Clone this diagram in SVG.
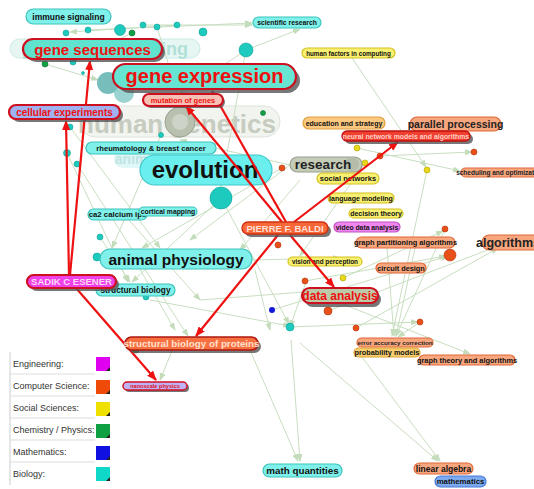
<svg xmlns="http://www.w3.org/2000/svg" width="534" height="489" viewBox="0 0 534 489">
<defs>
<marker id="ar" markerUnits="userSpaceOnUse" markerWidth="10" markerHeight="8" refX="9" refY="4" orient="auto"><path d="M0,0 L10,4 L0,8 z" fill="#ee1111"/></marker>
<marker id="ag" markerUnits="userSpaceOnUse" markerWidth="8" markerHeight="6" refX="7" refY="3" orient="auto"><path d="M0,0 L8,3 L0,6 z" fill="#c4dcbc"/></marker>
<style>
text{font-family:"Liberation Sans",Arial,sans-serif;text-anchor:middle;font-weight:bold}
.bio rect.p{fill:#7ff0ea;stroke:#3cc4bc;stroke-width:1.2}
.soc rect.p{fill:#f8f070;stroke:#d4c020;stroke-width:1.2}
.cs rect.p{fill:#f8a67e;stroke:#e0683a;stroke-width:1.2}
.edu rect.p{fill:#fcc880;stroke:#e0a040;stroke-width:1.2}
.prob rect.p{fill:#f8d070;stroke:#e0a030;stroke-width:1.2}
.sh{fill:#555;opacity:.8}
.hl{stroke:#cc1020;stroke-width:2.2}
.t{fill:#111}
.r{fill:#ee1010}
.g line{stroke:#c8dec0;stroke-width:1;marker-end:url(#ag)}
.red line{stroke:#ee1111;stroke-width:2.2;marker-end:url(#ar)}
.dc{fill:#1ccbbd;stroke:#10a098;stroke-width:.6}
.dg{fill:#12a046;stroke:#0a7030;stroke-width:.6}
.do{fill:#e8501a;stroke:#b03008;stroke-width:.6}
.dy{fill:#e8d818;stroke:#b0a000;stroke-width:.6}
.db{fill:#1418d8}
.lg{font-weight:normal;text-anchor:start;font-size:9px;fill:#333}
</style>
</defs>
<rect width="534" height="489" fill="#fff"/>

<g id="faded">
<rect x="10" y="39" width="190" height="19" rx="9.5" fill="#e6f6f3" stroke="#cdeae5"/>
<text x="105" y="55" font-size="18" fill="#b0e0d8">protein sequencing</text>
<rect x="80" y="106" width="200" height="31" rx="15.5" fill="#f2f4f0" stroke="#dfe3da"/>
<text x="177" y="133" font-size="26" fill="#c6ccbf">human genetics</text>
<rect x="114" y="150" width="44" height="18" rx="9" fill="#dff7f7"/>
<text x="137" y="164" font-size="14" fill="#bfe4e4">animal</text>
</g>

<g id="connectors" class="g">
<line x1="88" y1="30" x2="252" y2="23"/>
<line x1="143" y1="25" x2="252" y2="25"/>
<line x1="246" y1="50" x2="300" y2="29"/>
<line x1="246" y1="50" x2="178" y2="96"/>
<line x1="177" y1="25" x2="70" y2="32"/>
<line x1="157" y1="27" x2="182" y2="108"/>
<line x1="132" y1="33" x2="76" y2="60"/>
<line x1="45" y1="64" x2="98" y2="80"/>
<line x1="352" y1="58" x2="426" y2="167"/>
<line x1="427" y1="170" x2="392" y2="336"/>
<line x1="70" y1="127" x2="160" y2="248"/>
<line x1="67" y1="153" x2="128" y2="282"/>
<line x1="77" y1="164" x2="188" y2="336"/>
<line x1="100" y1="237" x2="130" y2="282"/>
<line x1="161" y1="135" x2="112" y2="248"/>
<line x1="221" y1="198" x2="132" y2="282"/>
<line x1="221" y1="198" x2="289" y2="324"/>
<line x1="282" y1="168" x2="142" y2="248"/>
<line x1="246" y1="50" x2="221" y2="186"/>
<line x1="290" y1="165" x2="180" y2="140"/>
<line x1="290" y1="165" x2="190" y2="240"/>
<line x1="305" y1="281" x2="446" y2="256"/>
<line x1="343" y1="278" x2="443" y2="231"/>
<line x1="328" y1="311" x2="498" y2="246"/>
<line x1="272" y1="310" x2="448" y2="256"/>
<line x1="290" y1="327" x2="418" y2="322"/>
<line x1="356" y1="328" x2="498" y2="248"/>
<line x1="380" y1="156" x2="472" y2="152"/>
<line x1="357" y1="148" x2="460" y2="171"/>
<line x1="365" y1="163" x2="300" y2="256"/>
<line x1="445" y1="229" x2="396" y2="336"/>
<line x1="387" y1="248" x2="394" y2="336"/>
<line x1="415" y1="248" x2="396" y2="336"/>
<line x1="340" y1="303" x2="470" y2="354"/>
<line x1="420" y1="322" x2="398" y2="337"/>
<line x1="250" y1="350" x2="298" y2="461"/>
<line x1="291" y1="340" x2="300" y2="461"/>
<line x1="362" y1="357" x2="440" y2="461"/>
<line x1="300" y1="343" x2="438" y2="461"/>
<line x1="172" y1="351" x2="160" y2="380"/>
<line x1="130" y1="252" x2="175" y2="330"/>
<line x1="120" y1="210" x2="200" y2="300"/>
<line x1="250" y1="260" x2="340" y2="258"/>
<line x1="200" y1="300" x2="330" y2="290"/>
<line x1="150" y1="300" x2="290" y2="326"/>
<line x1="255" y1="270" x2="270" y2="330"/>
<line x1="306" y1="282" x2="290" y2="327"/>
<line x1="300" y1="180" x2="240" y2="250"/>
</g>

<g id="dots">
<circle cx="108" cy="83" r="11" fill="#5fb2b0" opacity=".85"/>
<circle cx="124" cy="93" r="10" fill="#78c4c0" opacity=".75"/>
<circle cx="180" cy="122" r="15" fill="#b8c0b0" stroke="#9aa290"/>
<circle cx="180" cy="122" r="8" fill="#cdd3c6"/>
<circle class="dc" cx="66" cy="33" r="3"/>
<circle class="dc" cx="88" cy="30" r="3"/>
<circle class="dc" cx="120" cy="30" r="5.5"/>
<circle class="dc" cx="143" cy="25" r="3"/>
<circle class="dc" cx="157" cy="27" r="3"/>
<circle class="dc" cx="177" cy="25" r="3"/>
<circle class="dc" cx="203" cy="32" r="4"/>
<circle class="dc" cx="246" cy="50" r="7"/>
<circle class="dc" cx="73" cy="62" r="3"/>
<circle class="dc" cx="83" cy="73" r="1.5"/>
<circle class="dc" cx="70" cy="127" r="3"/>
<circle class="dc" cx="67" cy="153" r="3.5"/>
<circle class="dc" cx="77" cy="164" r="3"/>
<circle class="dc" cx="161" cy="135" r="2.5"/>
<circle class="dc" cx="100" cy="237" r="3"/>
<circle class="dc" cx="221" cy="198" r="11"/>
<circle class="dc" cx="97" cy="257" r="4"/>
<circle class="dc" cx="146" cy="297" r="3"/>
<circle class="dc" cx="290" cy="327" r="4"/>
<circle class="dg" cx="132" cy="33" r="3"/>
<circle class="dg" cx="45" cy="64" r="3"/>
<circle class="dg" cx="263" cy="113" r="2.5"/>
<circle class="dg" cx="136" cy="350" r="3"/>
<circle class="do" cx="282" cy="168" r="3"/>
<circle class="do" cx="278" cy="245" r="3"/>
<circle class="do" cx="380" cy="156" r="3"/>
<circle class="do" cx="474" cy="152" r="3"/>
<circle class="do" cx="445" cy="229" r="3"/>
<circle class="do" cx="305" cy="281" r="3"/>
<circle class="do" cx="328" cy="311" r="4"/>
<circle class="do" cx="356" cy="328" r="3"/>
<circle class="do" cx="420" cy="322" r="3"/>
<circle class="do" cx="450" cy="255" r="6"/>
<circle class="dy" cx="357" cy="148" r="3"/>
<circle class="dy" cx="365" cy="163" r="3"/>
<circle class="dy" cx="427" cy="170" r="3"/>
<circle class="dy" cx="343" cy="278" r="3"/>
<circle class="db" cx="272" cy="310" r="3"/>
</g>

<g id="immune-signaling" class="bio"><rect class="p" x="26" y="9" width="85" height="15" rx="7.5"/><text class="t" x="68.5" y="19.5" font-size="8.5">immune signaling</text></g>
<g id="scientific-research" class="bio"><rect class="p" x="253" y="17" width="68" height="11" rx="5.5"/><text class="t" x="287" y="25" font-size="6.8">scientific research</text></g>
<g id="human-factors" class="soc"><rect class="p" x="302" y="48" width="93" height="10" rx="5"/><text class="t" x="348.5" y="55.5" font-size="6.3">human factors in computing</text></g>
<g id="rheumatology" class="bio"><rect class="p" x="86" y="142" width="130" height="12" rx="6"/><text class="t" x="151" y="150.8" font-size="7.6">rheumatology &amp; breast cancer</text></g>
<g id="evolution"><rect x="140" y="155" width="132" height="30" rx="15" fill="#6aeeee" stroke="#3cc8c8" stroke-width="1.2"/><text x="205" y="178" font-size="24" fill="#111">evolution</text></g>
<g id="research"><rect x="290" y="157" width="72" height="15" rx="7.5" fill="#c4ccb8" stroke="#98a090" stroke-width="1.2"/><circle cx="352" cy="164" r="7" fill="#b4bcaa"/><text x="323" y="169" font-size="13.5" font-weight="normal" fill="#222">research</text></g>
<g id="education-strategy" class="edu"><rect class="p" x="303" y="117" width="82" height="12" rx="6"/><text class="t" x="344" y="125.5" font-size="7">education and strategy</text></g>
<g id="parallel-processing" class="cs"><rect class="p" x="410" y="117" width="91" height="14" rx="7"/><text x="455.5" y="127.5" font-size="10.5" font-weight="normal" fill="#222">parallel processing</text></g>
<g id="scheduling" class="cs"><rect class="p" x="461" y="168" width="80" height="9" rx="4.5"/><text x="500" y="175" font-size="6.5" font-weight="normal" fill="#222">scheduling and optimization</text></g>
<g id="social-networks" class="soc"><rect class="p" x="317" y="173" width="62" height="11" rx="5.5"/><text class="t" x="348" y="181.3" font-size="7.5">social networks</text></g>
<g id="language-modeling" class="soc"><rect class="p" x="328" y="193" width="66" height="10" rx="5"/><text class="t" x="361" y="200.6" font-size="7">language modeling</text></g>
<g id="decision-theory" class="soc"><rect class="p" x="349" y="209" width="54" height="9" rx="4.5"/><text class="t" x="376" y="216" font-size="7">decision theory</text></g>
<g id="video-data-analysis"><rect x="334" y="222" width="66" height="10" rx="5" fill="#f086f0" stroke="#c450c4" stroke-width="1.2"/><text class="t" x="367" y="229.5" font-size="6.8">video data analysis</text></g>
<g id="graph-partitioning" class="cs"><rect class="p" x="356" y="237" width="99" height="11" rx="5.5"/><text class="t" x="405.5" y="245.2" font-size="7.4">graph partitioning algorithms</text></g>
<g id="algorithms" class="cs"><rect class="p" x="482" y="235" width="60" height="15" rx="7.5"/><text x="508" y="246.5" font-size="12.5" font-weight="normal" fill="#222">algorithms</text></g>
<g id="ca2-calcium" class="bio"><rect class="p" x="88" y="209" width="59" height="11" rx="5.5"/><text class="t" x="117.5" y="217.3" font-size="7.8">ca2 calcium ip3</text></g>
<g id="cortical-mapping" class="bio"><rect class="p" x="139" y="207" width="58" height="9" rx="4.5"/><text class="t" x="168" y="214" font-size="6.8">cortical mapping</text></g>
<g id="animal-physiology" class="bio"><rect class="p" x="100" y="249" width="152" height="20" rx="10"/><text class="t" x="176" y="264.5" font-size="15.5">animal physiology</text></g>
<g id="vision-perception" class="soc"><rect class="p" x="288" y="257" width="74" height="9" rx="4.5"/><text class="t" x="325" y="264" font-size="6.4">vision and perception</text></g>
<g id="circuit-design" class="cs"><rect class="p" x="376" y="263" width="50" height="10" rx="5"/><text class="t" x="401" y="270.7" font-size="7.3">circuit design</text></g>
<g id="structural-biology" class="bio"><rect class="p" x="96" y="284" width="79" height="12" rx="6"/><text class="t" x="135.5" y="292.8" font-size="8.3">structural biology</text></g>
<g id="error-accuracy" class="cs"><rect class="p" x="357" y="338" width="76" height="9" rx="4.5"/><text x="395" y="345" font-size="6.2" font-weight="normal" fill="#222">error accuracy correction</text></g>
<g id="probability-models" class="prob"><rect class="p" x="354" y="348" width="66" height="9" rx="4.5"/><text class="t" x="387" y="355.2" font-size="7.3">probability models</text></g>
<g id="graph-theory" class="cs"><rect class="p" x="419" y="355" width="96" height="10" rx="5"/><text class="t" x="467" y="362.7" font-size="7.4">graph theory and algorithms</text></g>
<g id="math-quantities" class="bio"><rect class="p" x="263" y="464" width="79" height="13" rx="6.5"/><text class="t" x="302.5" y="474" font-size="9.8">math quantities</text></g>
<g id="linear-algebra" class="cs"><rect class="p" x="414" y="463" width="59" height="11" rx="5.5"/><text class="t" x="443.5" y="471.5" font-size="8.5">linear algebra</text></g>
<g id="mathematics"><rect x="435" y="476" width="51" height="11" rx="5.5" fill="#7caaf0" stroke="#4878d8" stroke-width="1.2"/><text class="t" x="460.5" y="484.3" font-size="7.8">mathematics</text></g>

<g id="person-links" class="red">
<line x1="70" y1="275" x2="90" y2="61"/>
<line x1="69" y1="275" x2="66" y2="121"/>
<line x1="76" y1="288" x2="156" y2="380"/>
<line x1="282" y1="222" x2="186" y2="106"/>
<line x1="286" y1="222" x2="212" y2="91"/>
<line x1="294" y1="222" x2="398" y2="142"/>
<line x1="278" y1="235" x2="196" y2="336"/>
<line x1="290" y1="235" x2="334" y2="287"/>
</g>

<g id="gene-sequences"><rect class="sh" x="26" y="42" width="139" height="20" rx="10"/><rect class="hl" x="23" y="39" width="139" height="20" rx="10" fill="#5fe3cf"/><text class="r" x="92.5" y="54.5" font-size="15">gene sequences</text></g>
<g id="gene-expression"><rect class="sh" x="117" y="68" width="183" height="25" rx="12.5"/><rect class="hl" x="113" y="64" width="183" height="25" rx="12.5" fill="#66e6d2"/><text class="r" x="204.5" y="83" font-size="20">gene expression</text></g>
<g id="mutation-of-genes"><rect class="sh" x="145" y="96" width="80" height="12" rx="6"/><rect class="hl" x="143" y="94" width="80" height="12" rx="6" fill="#f6c0b4" stroke-width="1.6"/><text class="r" x="183" y="102.7" font-size="7.5">mutation of genes</text></g>
<g id="cellular-experiments"><rect class="sh" x="12" y="108" width="111" height="14" rx="7"/><rect class="hl" x="9" y="105" width="111" height="14" rx="7" fill="#9fb2f2" stroke-width="1.8"/><text class="r" x="64.5" y="115.6" font-size="10">cellular experiments</text></g>
<g id="neural-network"><rect class="sh" x="345" y="134" width="128" height="10" rx="5"/><rect x="342" y="131" width="128" height="10" rx="5" fill="#f04030" stroke="#c01010" stroke-width="1.3"/><text x="406" y="138.6" font-size="6.9" fill="#ffd2c8">neural network models and algorithms</text></g>
<g id="pierre-baldi"><rect class="sh" x="245" y="225" width="86" height="12" rx="6"/><rect x="242" y="222" width="86" height="12" rx="6" fill="#f86838" stroke="#d03010" stroke-width="1.4"/><text x="285" y="231.5" font-size="9.5" font-weight="normal" fill="#ffe0d8">PIERRE F. BALDI</text></g>
<g id="sadik-esener"><rect class="sh" x="30" y="278" width="89" height="13" rx="6.5"/><rect class="hl" x="27" y="275" width="89" height="13" rx="6.5" fill="#f040e8" stroke-width="1.6"/><text x="71.5" y="285" font-size="9.5" font-weight="normal" fill="#ffd8f4">SADIK C ESENER</text></g>
<g id="data-analysis"><rect class="sh" x="305" y="292" width="76" height="15" rx="7.5"/><rect class="hl" x="302" y="288" width="76" height="15" rx="7.5" fill="#bccaa8"/><text class="r" x="340" y="299.8" font-size="12">data analysis</text></g>
<g id="structural-biology-proteins"><rect class="sh" x="128" y="340" width="133" height="13" rx="6.5"/><rect x="125" y="337" width="133" height="13" rx="6.5" fill="#f87040" stroke="#b01810" stroke-width="1.6"/><text x="191.5" y="347" font-size="9.8" font-weight="normal" fill="#ffe0d0">structural biology of proteins</text></g>
<g id="nanoscale-physics"><rect class="sh" x="125" y="384" width="64" height="8" rx="4"/><rect x="123" y="382" width="64" height="8" rx="4" fill="#c0b2f4" stroke="#d01020" stroke-width="1.5"/><text x="155" y="388.2" font-size="5.6" fill="#e01020">nanoscale physics</text></g>

<g id="legend">
<line x1="10" y1="352" x2="10" y2="485" stroke="#ccc"/>
<g stroke="#ddd"><line x1="10" y1="374" x2="95" y2="374"/><line x1="10" y1="396" x2="95" y2="396"/><line x1="10" y1="418" x2="95" y2="418"/><line x1="10" y1="440" x2="95" y2="440"/><line x1="10" y1="462" x2="95" y2="462"/></g>
<text class="lg" x="13" y="367">Engineering:</text>
<text class="lg" x="13" y="389">Computer Science:</text>
<text class="lg" x="13" y="411">Social Sciences:</text>
<text class="lg" x="13" y="433">Chemistry / Physics:</text>
<text class="lg" x="13" y="455">Mathematics:</text>
<text class="lg" x="13" y="477">Biology:</text>
<rect x="96" y="357" width="14" height="14" fill="#e000f0"/><path d="M110,367 L110,371 L106,371 z" fill="#222"/>
<rect x="96" y="380" width="14" height="14" fill="#f04a08"/><path d="M110,390 L110,394 L106,394 z" fill="#222"/>
<rect x="96" y="402" width="14" height="14" fill="#f0e000"/><path d="M110,412 L110,416 L106,416 z" fill="#222"/>
<rect x="96" y="424" width="14" height="14" fill="#10a044"/><path d="M110,434 L110,438 L106,438 z" fill="#222"/>
<rect x="96" y="446" width="14" height="14" fill="#1010e0"/><path d="M110,456 L110,460 L106,460 z" fill="#222"/>
<rect x="96" y="467" width="14" height="14" fill="#10d8c8"/><path d="M110,477 L110,481 L106,481 z" fill="#222"/>
</g>
</svg>
